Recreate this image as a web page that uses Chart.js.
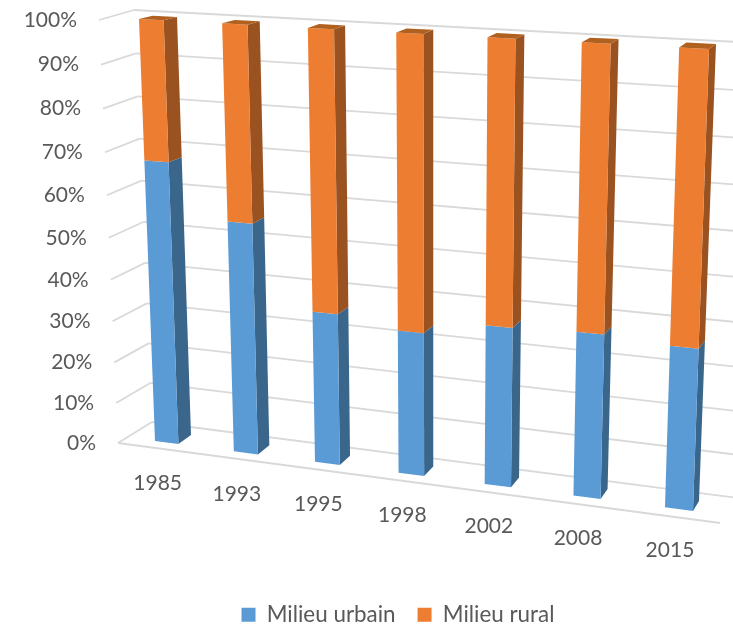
<!DOCTYPE html>
<html>
<head>
<meta charset="utf-8">
<style>
  html, body { margin: 0; padding: 0; background: #fff; }
  canvas { display: block; }
</style>
<script src="https://cdn.jsdelivr.net/npm/chart.js@4/dist/chart.umd.min.js"></script>
</head>
<body>
<canvas id="chart" width="733" height="624"></canvas>
<script>
const years = ['1985', '1993', '1995', '1998', '2002', '2008', '2015'];
const urbain = [67.7, 55.1, 35.9, 33.6, 36.9, 37.5, 36.5];
const rural = [32.3, 44.9, 64.1, 66.4, 63.1, 62.5, 63.5];

const BAR_SHARE = 0.30;
const FONT = 'Lato, "Open Sans", sans-serif';
const TEXT_COLOR = '#595959';
const GRID_COLOR = '#d9d9d9';

// unit square -> quad, corners given as (0,0) (1,0) (1,1) (0,1)
function quadMap(p0, p1, p2, p3) {
    const dx1 = p1[0] - p2[0], dx2 = p3[0] - p2[0], sx = p0[0] - p1[0] + p2[0] - p3[0];
    const dy1 = p1[1] - p2[1], dy2 = p3[1] - p2[1], sy = p0[1] - p1[1] + p2[1] - p3[1];
    const den = dx1 * dy2 - dx2 * dy1;
    const g = (sx * dy2 - dx2 * sy) / den;
    const h = (dx1 * sy - sx * dy1) / den;
    const a = p1[0] - p0[0] + g * p1[0], b = p3[0] - p0[0] + h * p3[0];
    const d = p1[1] - p0[1] + g * p1[1], e = p3[1] - p0[1] + h * p3[1];
    return (s, t) => {
        const q = g * s + h * t + 1;
        return [(a * s + b * t + p0[0]) / q, (d * s + e * t + p0[1]) / q];
    };
}

// the planes of the 3D box
const backWall = quadMap([152, 422], [738, 498], [757, 43], [134, 10]);
const frontWall = quadMap([118, 443], [720, 523], [740, 52], [99, 20]);
const barFront = quadMap([155, 441], [693, 511], [709, 49], [139, 19]);
const barBack = quadMap([191, 435], [699, 501], [716, 44], [177, 17]);

function poly(ctx, color, pts) {
    ctx.fillStyle = color;
    ctx.beginPath();
    pts.forEach((p, i) => i ? ctx.lineTo(p[0], p[1]) : ctx.moveTo(p[0], p[1]));
    ctx.closePath();
    ctx.fill();
}

function line(ctx, a, b) {
    ctx.beginPath();
    ctx.moveTo(a[0], a[1]);
    ctx.lineTo(b[0], b[1]);
    ctx.stroke();
}

const sideColors = ['#3a668c', '#9a5220'];
const topColors = ['#4a80b0', '#b0601f'];

const box3d = {
    id: 'box3d',
    beforeDatasetsDraw(chart) {
        const ctx = chart.ctx;
        const area = chart.chartArea;
        const xs = chart.scales.x, ys = chart.scales.y;
        const toU = px => (px - area.left) / area.width;
        const toV = py => (area.bottom - py) / area.height;

        // walls and floor
        ctx.save();
        ctx.strokeStyle = GRID_COLOR;
        ctx.lineWidth = 1.8;
        ctx.font = '21px ' + FONT;
        ctx.textBaseline = 'middle';
        ys.ticks.forEach((tick, i) => {
            const v = toV(ys.getPixelForTick(i));
            const front = frontWall(0, v);
            line(ctx, backWall(0, v), backWall(1, v));
            line(ctx, front, backWall(0, v));
            ctx.fillStyle = TEXT_COLOR;
            ctx.textAlign = 'right';
            ctx.fillText(tick.label, front[0] - 22, front[1]);
        });
        line(ctx, frontWall(0, 0), frontWall(1, 0));

        // depth planes are pinned on the outer bars' edges
        const bar0 = chart.getDatasetMeta(0).data[0];
        const barN = chart.getDatasetMeta(0).data[years.length - 1];
        const w = toU(bar0.x + bar0.width / 2) - toU(bar0.x - bar0.width / 2);
        const u1 = toU(bar0.x - bar0.width / 2);
        const u2 = toU(barN.x + barN.width / 2);
        const front = (u, v) => barFront((u - u1) / (u2 - u1), v);
        const back = (u, v) => barBack((u - u1 - w) / (u2 - u1 - w), v);

        years.forEach((year, i) => {
            chart.data.datasets.forEach((ds, k) => {
                const bar = chart.getDatasetMeta(k).data[i];
                const l = toU(bar.x - bar.width / 2), r = toU(bar.x + bar.width / 2);
                const v0 = toV(bar.base), v1 = toV(bar.y);
                poly(ctx, sideColors[k], [front(r, v0), back(r, v0), back(r, v1), front(r, v1)]);
                poly(ctx, ds.backgroundColor, [front(l, v0), front(r, v0), front(r, v1), front(l, v1)]);
                if (k === chart.data.datasets.length - 1) {
                    poly(ctx, topColors[k], [front(l, v1), front(r, v1), back(r, v1), back(l, v1)]);
                }
            });
            const c = front(toU(xs.getPixelForTick(i)), 0);
            ctx.fillStyle = TEXT_COLOR;
            ctx.textAlign = 'center';
            ctx.fillText(year, c[0] - 9, c[1] + 41);
        });
        ctx.restore();
        return false;
    }
};

new Chart(document.getElementById('chart'), {
    type: 'bar',
    data: {
        labels: years,
        datasets: [
            { label: 'Milieu urbain', data: urbain, backgroundColor: '#5b9bd5' },
            { label: 'Milieu rural', data: rural, backgroundColor: '#ed7d31' }
        ]
    },
    options: {
        responsive: false,
        animation: false,
        layout: { padding: { left: 63, bottom: -12 } },
        datasets: { bar: { categoryPercentage: 1, barPercentage: BAR_SHARE } },
        scales: {
            x: { stacked: true, display: false },
            y: {
                stacked: true, display: false, min: 0, max: 100,
                ticks: { stepSize: 10, callback: v => v + '%' }
            }
        },
        plugins: {
            tooltip: { enabled: false },
            legend: {
                position: 'bottom',
                fullSize: false,
                labels: {
                    boxWidth: 14, boxHeight: 14, padding: 22, color: TEXT_COLOR,
                    font: { family: FONT, size: 22.4 }
                }
            }
        }
    },
    plugins: [box3d]
});
</script>
</body>
</html>
